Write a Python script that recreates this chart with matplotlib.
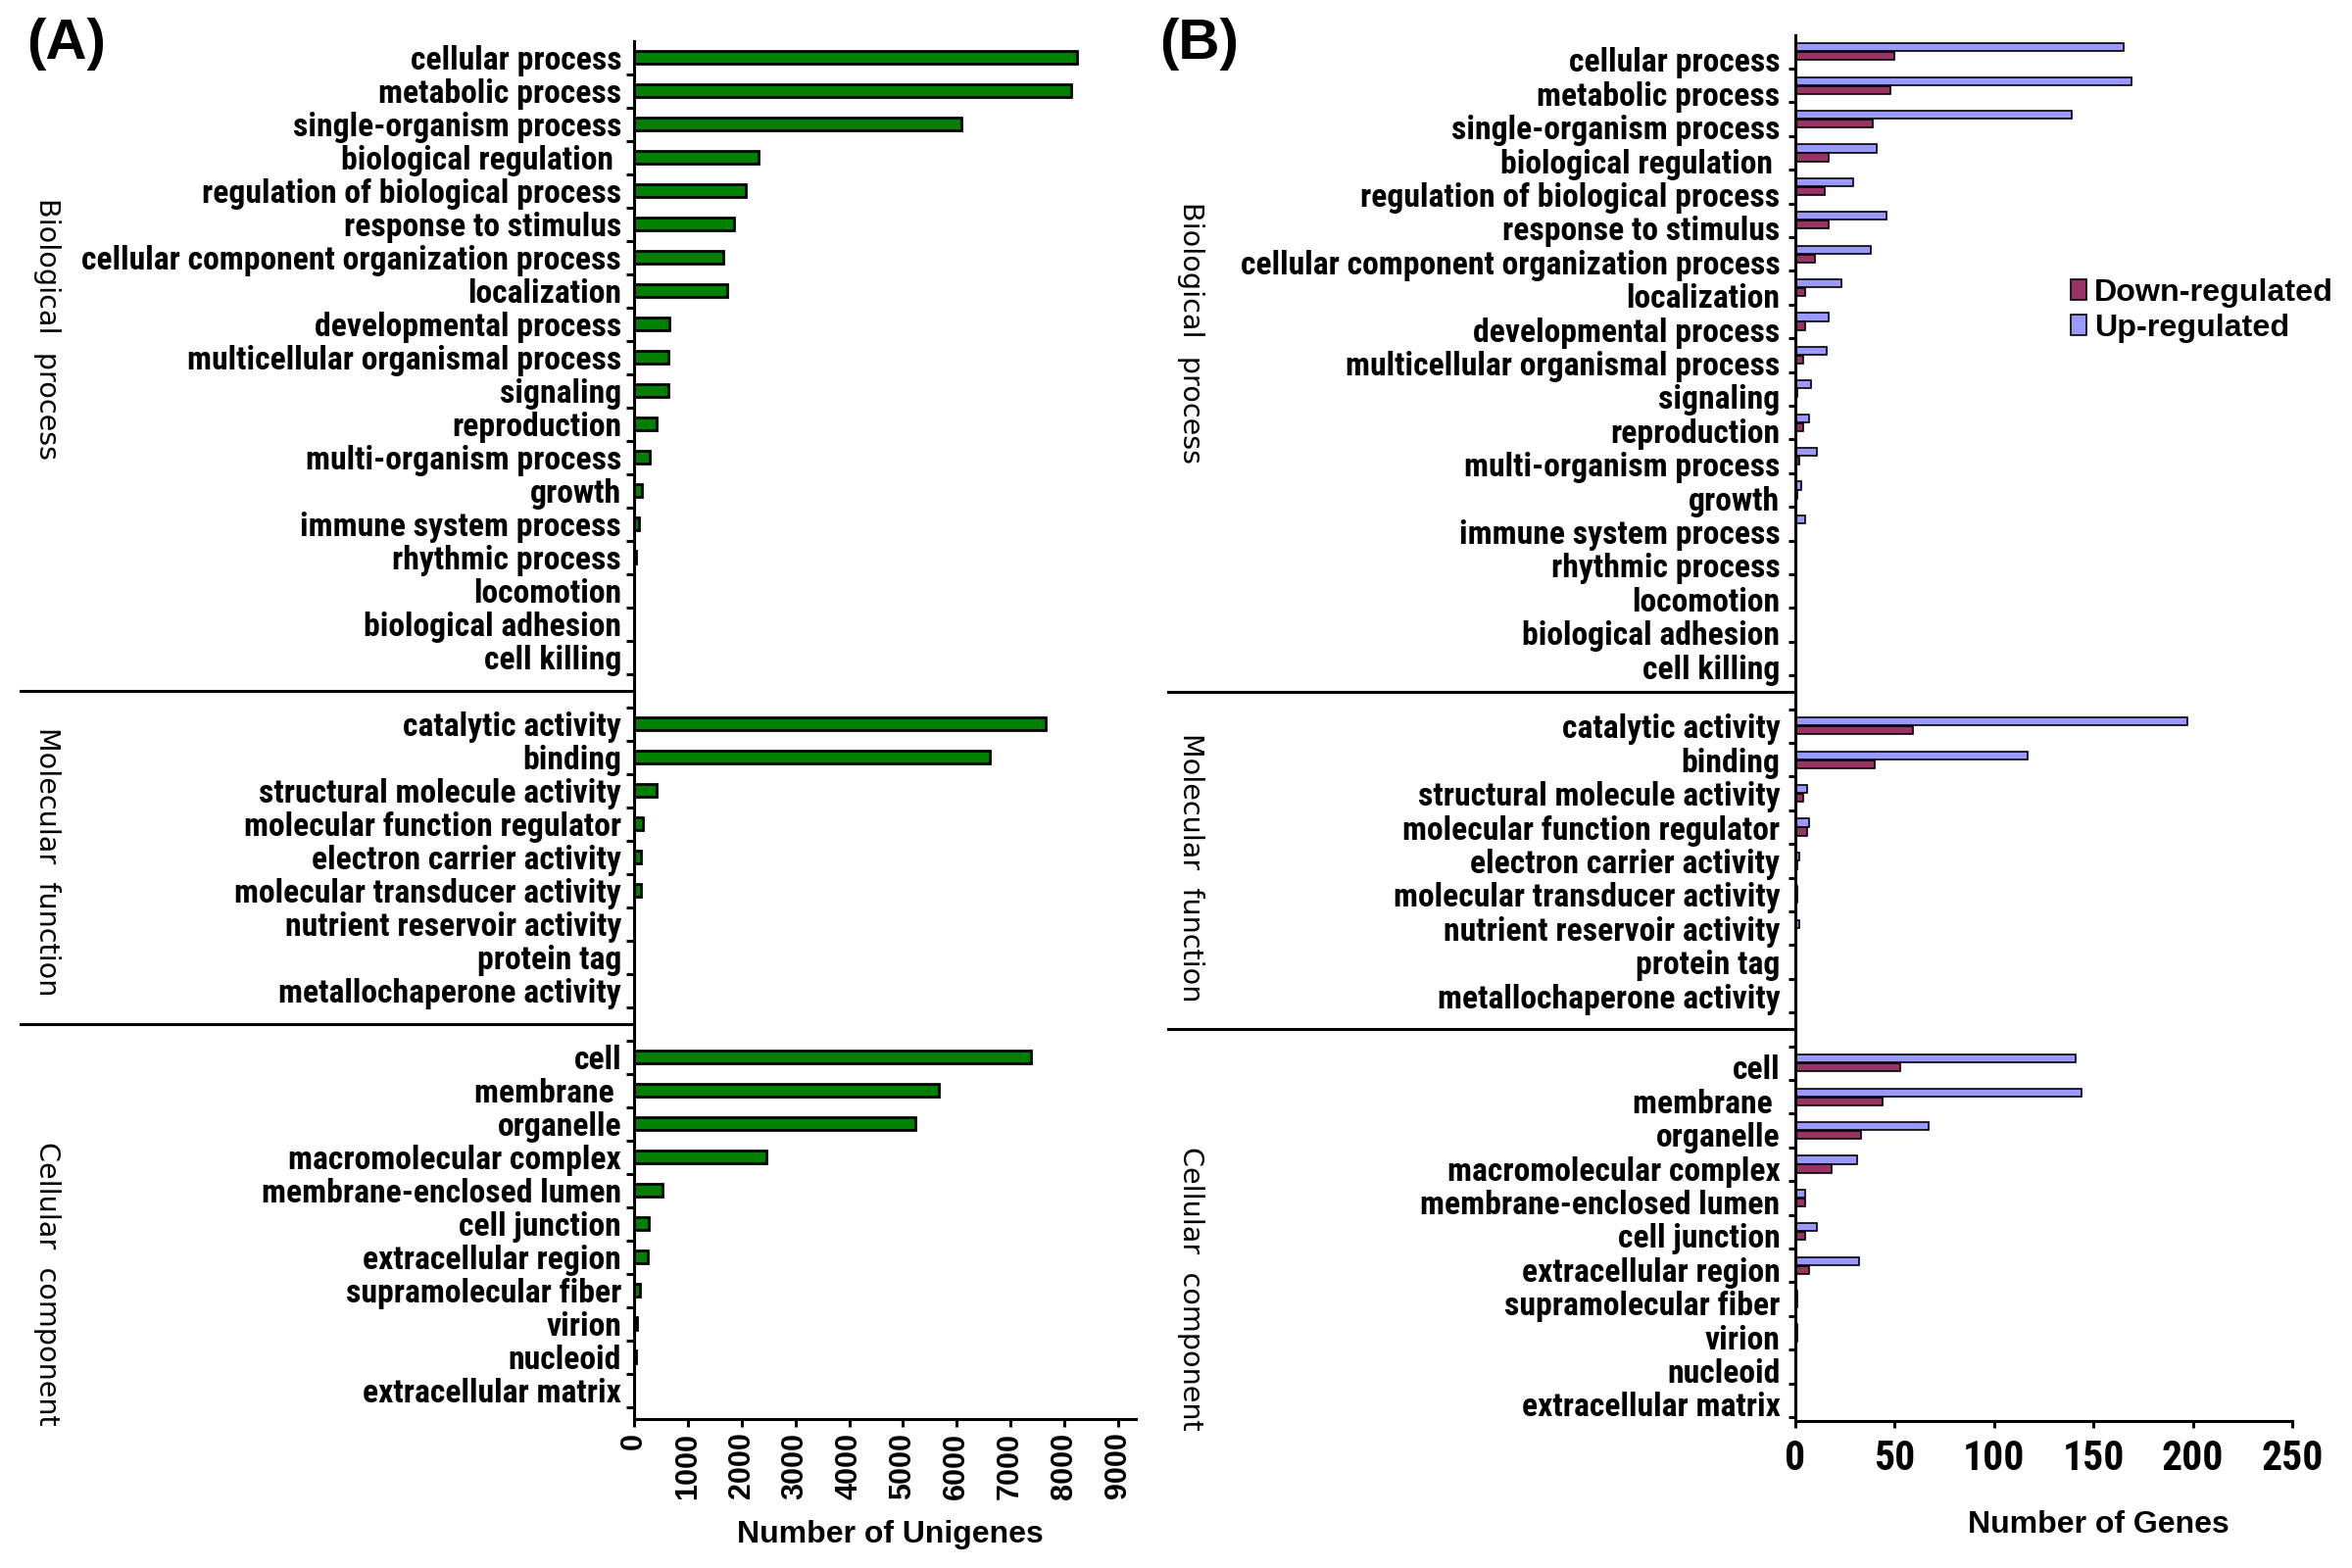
import numpy as np
import matplotlib
matplotlib.use("Agg")
import matplotlib.pyplot as plt
from matplotlib import transforms

# ---- data ------------------------------------------------------------
bp_terms = ["cellular process", "metabolic process", "single-organism process",
            "biological regulation ", "regulation of biological process",
            "response to stimulus", "cellular component organization process",
            "localization", "developmental process", "multicellular organismal process",
            "signaling", "reproduction", "multi-organism process", "growth",
            "immune system process", "rhythmic process", "locomotion",
            "biological adhesion", "cell killing"]
mf_terms = ["catalytic activity", "binding", "structural molecule activity",
            "molecular function regulator", "electron carrier activity",
            "molecular transducer activity", "nutrient reservoir activity",
            "protein tag", "metallochaperone activity"]
cc_terms = ["cell", "membrane ", "organelle", "macromolecular complex",
            "membrane-enclosed lumen", "cell junction", "extracellular region",
            "supramolecular fiber", "virion", "nucleoid", "extracellular matrix"]

# panel A : number of unigenes
unigenes_bp = [8230, 8120, 6080, 2320, 2080, 1850, 1660, 1730, 650, 630, 630,
               420, 290, 150, 90, 30, 5, 3, 2]
unigenes_mf = [7650, 6620, 420, 170, 130, 130, 8, 4, 2]
unigenes_cc = [7380, 5670, 5230, 2460, 530, 280, 250, 110, 60, 35, 8]

# panel B : number of DEGs
up_bp = [165, 169, 139, 41, 29, 46, 38, 23, 17, 16, 8, 7, 11, 3, 5, 0, 0, 0, 0]
down_bp = [50, 48, 39, 17, 15, 17, 10, 5, 5, 4, 1, 4, 2, 1, 0, 0, 0, 0, 0]
up_mf = [197, 117, 6, 7, 2, 1, 2, 0, 0]
down_mf = [59, 40, 4, 6, 1, 1, 0, 0, 0]
up_cc = [141, 144, 67, 31, 5, 11, 32, 1, 1, 0, 0]
down_cc = [53, 44, 33, 18, 5, 5, 7, 1, 1, 0, 0]

section_titles = ["Biological  process", "Molecular  function", "Cellular  component"]
a_xticks = [0, 1000, 2000, 3000, 4000, 5000, 6000, 7000, 8000, 9000]
b_xticks = [0, 50, 100, 150, 200, 250]

# ---- styling ---------------------------------------------------------
W, H = 2400, 1600
NARROW = ["Roboto Condensed", "DejaVu Sans"]
ARIAL = ["Liberation Sans", "DejaVu Sans"]
GREEN = "#008000"
UP_COLOR = "#9999ff"
DOWN_COLOR = "#993366"

fig = plt.figure(figsize=(12, 8), dpi=200)


def px_axes(left, top, right, bottom):
    """axes placed by pixel box (y measured from the top)"""
    return fig.add_axes([left / W, 1 - bottom / H, (right - left) / W, (bottom - top) / H])


# rows of the three sections, one empty row between sections
sizes = [len(bp_terms), len(mf_terms), len(cc_terms)]
positions = []
start = 0
for n in sizes:
    positions.append(np.arange(start, start + n))
    start += n + 1
all_pos = np.concatenate(positions)
boundaries = np.concatenate([positions[0] + 0.5,
                             np.r_[positions[1][0] - 0.5, positions[1] + 0.5],
                             np.r_[positions[2][0] - 0.5, positions[2] + 0.5]])
separators = [positions[0][-1] + 1, positions[1][-1] + 1]
all_terms = bp_terms + mf_terms + cc_terms


def style_axis(ax, label_pad, tick_len):
    for side in ["top", "right"]:
        ax.spines[side].set_visible(False)
    for side in ["left", "bottom"]:
        ax.spines[side].set_linewidth(1.1)
    ax.set_yticks(boundaries)
    ax.set_yticklabels([])
    ax.set_yticks(all_pos, minor=True)
    ax.set_yticklabels(all_terms, minor=True, fontsize=12.1,
                       fontfamily=NARROW, fontweight="bold")
    ax.tick_params(axis="y", which="major", direction="out", length=tick_len, width=1.1)
    ax.tick_params(axis="y", which="minor", length=0, pad=label_pad + tick_len)
    ax.tick_params(axis="x", direction="out", length=tick_len, width=1.1)


# ---- panel A ---------------------------------------------------------
axA = px_axes(647, 41.5, 1159, 1448)
a_vals = unigenes_bp + unigenes_mf + unigenes_cc
axA.barh(all_pos, a_vals, height=0.36, color=GREEN, edgecolor="black", linewidth=1.0)
axA.set_xlim(0, 9330)
axA.set_ylim(-0.5 + (1448 - 41.5) / 34.0, -0.5)
style_axis(axA, 1.7, 2.9)
axA.set_xticks(a_xticks)
axA.set_xticklabels([str(t) for t in a_xticks], rotation=90, fontsize=11,
                    fontfamily=ARIAL, fontweight="bold", va="top")
axA.tick_params(axis="x", pad=2)

# ---- panel B ---------------------------------------------------------
axB = px_axes(1832, 35.6, 2339, 1450)
up_vals = up_bp + up_mf + up_cc
down_vals = down_bp + down_mf + down_cc
up_bars = axB.barh(all_pos - 0.13, up_vals, height=0.235, color=UP_COLOR,
                   edgecolor="black", linewidth=0.6, label="Up-regulated")
down_bars = axB.barh(all_pos + 0.13, down_vals, height=0.235, color=DOWN_COLOR,
                     edgecolor="black", linewidth=0.6, label="Down-regulated")
axB.set_xlim(0, 250)
axB.set_ylim(-0.5 + (1450 - 35.6) / 34.4, -0.5)
style_axis(axB, 3.0, 2.6)
axB.set_xticks(b_xticks)
axB.set_xticklabels([str(t) for t in b_xticks], fontsize=15,
                    fontfamily=NARROW, fontweight="bold")
axB.tick_params(axis="x", pad=4)

# in B the labels sit a little lower than the bar pairs
label_shift = [8, 0, 4]
sec_of_label = np.repeat([0, 1, 2], sizes)
for lab, s in zip(axB.get_yticklabels(minor=True), sec_of_label):
    off = transforms.ScaledTranslation(0, -label_shift[s] / 200, fig.dpi_scale_trans)
    lab.set_transform(lab.get_transform() + off)

# separators between the sections
for ax, x0 in [(axA, (21 - 647) / 512), (axB, (1192 - 1832) / 507)]:
    for ys in separators:
        ax.plot([x0, 0], [ys, ys], transform=ax.get_yaxis_transform(),
                color="black", linewidth=1.1, clip_on=False)

# section titles
for xc, ycs in [(48, [336, 879, 1310]), (1215, [340, 885, 1315])]:
    for title, yc in zip(section_titles, ycs):
        fig.text(xc / W, 1 - yc / H, title, rotation=270, ha="center", va="center",
                 fontsize=10.3, fontfamily="DejaVu Sans")

# axis titles
fig.text(908 / W, 1 - 1566 / H, "Number of Unigenes", ha="center", va="center",
         fontsize=11.5, fontfamily=ARIAL, fontweight="bold")
fig.text(2141 / W, 1 - 1556 / H, "Number of Genes", ha="center", va="center",
         fontsize=11.5, fontfamily=ARIAL, fontweight="bold")

# panel letters
fig.text(27 / W, 1 - 18 / H, "(A)", ha="left", va="top", fontsize=21,
         fontfamily=ARIAL, fontweight="bold")
fig.text(1183 / W, 1 - 18 / H, "(B)", ha="left", va="top", fontsize=21,
         fontfamily=ARIAL, fontweight="bold")

# legend
fig.legend(handles=[down_bars, up_bars], labels=["Down-regulated", "Up-regulated"],
           loc="upper left", bbox_to_anchor=(2113 / W, 1 - 284 / H), frameon=False,
           borderpad=0, borderaxespad=0, handlelength=0.5, handleheight=0.62,
           handletextpad=0.25, labelspacing=0.18,
           prop={"family": ARIAL, "weight": "bold", "size": 11.6})

fig.savefig("out.png", dpi=200)
